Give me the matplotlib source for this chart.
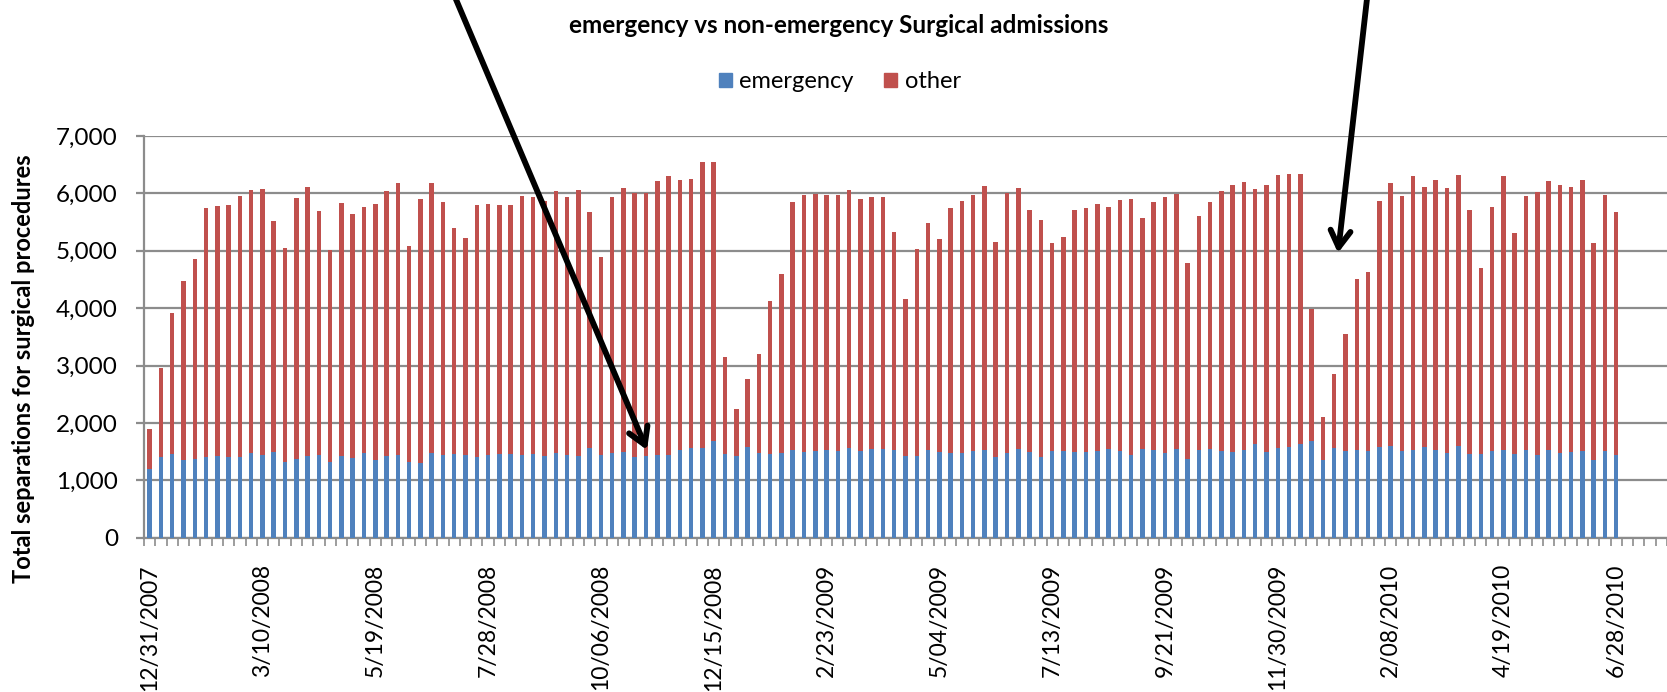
import numpy as np
import matplotlib
matplotlib.use("Agg")
import matplotlib.pyplot as plt
from matplotlib.patches import Patch

plt.rcParams["font.family"] = ["Lato", "DejaVu Sans"]

# weekly surgical admissions, 12/31/2007 .. 6/28/2010
emergency = [
    1192, 1413, 1453, 1360, 1378, 1401, 1430, 1401, 1407, 1477,
    1436, 1488, 1326, 1366, 1419, 1436, 1326, 1419, 1395, 1477,
    1349, 1424, 1442, 1320, 1302, 1471, 1442, 1453, 1442, 1413,
    1436, 1465, 1465, 1442, 1462, 1419, 1471, 1448, 1419, 1558,
    1436, 1483, 1494, 1401, 1430, 1442, 1448, 1535, 1558, 1558,
    1686, 1453, 1430, 1576, 1477, 1465, 1471, 1529, 1500, 1517,
    1529, 1512, 1570, 1506, 1552, 1547, 1535, 1430, 1430, 1535,
    1500, 1477, 1471, 1517, 1529, 1407, 1471, 1541, 1500, 1407,
    1506, 1506, 1488, 1488, 1517, 1541, 1506, 1436, 1541, 1529,
    1483, 1541, 1378, 1529, 1547, 1517, 1500, 1523, 1628, 1500,
    1558, 1576, 1628, 1685, 1349, 1565, 1510, 1522, 1513, 1578,
    1590, 1510, 1533, 1572, 1526, 1480, 1592, 1461, 1461, 1507,
    1533, 1467, 1520, 1434, 1533, 1474, 1493, 1507, 1362, 1507,
    1434,
]
other = [
    703, 1552, 2454, 3117, 3477, 4349, 4355, 4401, 4552, 4575,
    4640, 4035, 3726, 4547, 4686, 4262, 3686, 4412, 4250, 4290,
    4465, 4623, 4744, 3756, 4593, 4715, 4407, 3942, 3785, 4384,
    4384, 4337, 4332, 4511, 4471, 4441, 4576, 4488, 4645, 4111,
    3454, 4453, 4599, 4599, 4582, 4779, 4860, 4703, 4686, 4994,
    4855, 1698, 814, 1191, 1726, 2657, 3128, 4314, 4471, 4477,
    4448, 4459, 4494, 4401, 4378, 4389, 3791, 2721, 3599, 3948,
    3703, 4261, 4389, 4451, 4605, 3744, 4535, 4558, 4209, 4134,
    3634, 3732, 4227, 4250, 4297, 4221, 4384, 4471, 4023, 4326,
    4447, 4453, 3407, 4081, 4302, 4518, 4645, 4675, 4448, 4651,
    4762, 4755, 4709, 2300, 750, 1284, 2040, 2981, 3120, 4295,
    4595, 4453, 4776, 4546, 4704, 4606, 4724, 4250, 3236, 4263,
    4770, 3842, 4427, 4586, 4678, 4671, 4612, 4723, 3776, 4467,
    4237,
]
tick_labels = ["12/31/2007", "3/10/2008", "5/19/2008", "7/28/2008", "10/06/2008",
               "12/15/2008", "2/23/2009", "5/04/2009", "7/13/2009", "9/21/2009",
               "11/30/2009", "2/08/2010", "4/19/2010", "6/28/2010"]
label_step = 10
n_slots = 135  # axis keeps a few empty weeks after the last bar

BLUE = "#4F81BD"
RED = "#C0504D"
GRID = "#8C8C8C"

W, H = 1667, 692
fig = plt.figure(figsize=(W / 100, H / 100), dpi=100)
ax = fig.add_axes([144 / W, 1 - 537.7 / H, 1 - 144 / W, (537.7 - 136) / H])

x = np.arange(len(emergency))
ax.bar(x, emergency, width=0.4, color=BLUE, zorder=3)
ax.bar(x, other, width=0.4, bottom=emergency, color=RED, zorder=3)

ax.set_ylim(0, 7000)
ax.set_xlim(-0.5, (W - 144) / 11.29 - 0.5)
ax.set_yticks(range(0, 7001, 1000))
ax.set_yticklabels([f"{v:,}" for v in range(0, 7001, 1000)])
ax.yaxis.grid(True, color=GRID, linewidth=1.6, zorder=0)
ax.set_axisbelow(True)

ax.set_xticks(np.arange(0, len(emergency), label_step))
ax.set_xticklabels(tick_labels, rotation=90)
ax.set_xticks(np.arange(-0.5, n_slots, 1), minor=True)
ax.tick_params(axis="x", which="major", length=0, pad=19, labelsize=16.5)
ax.tick_params(axis="x", which="minor", length=5.5, width=1.2, color=GRID)
ax.tick_params(axis="y", length=5.8, width=1.6, color=GRID, pad=13, labelsize=17.5)

for s in ["top", "right"]:
    ax.spines[s].set_visible(False)
for s in ["left", "bottom"]:
    ax.spines[s].set_color(GRID)
    ax.spines[s].set_linewidth(1.6)

fig.text(24 / W, 1 - 369 / H, "Total separations for surgical procedures",
         rotation=90, ha="center", va="center", fontsize=17, fontweight="bold")
fig.text(839 / W, 1 - 25.5 / H, "emergency vs non-emergency Surgical admissions",
         ha="center", va="center", fontsize=17.5, fontweight="bold")

handles = [Patch(color=BLUE, label="emergency"), Patch(color=RED, label="other")]
fig.legend(handles=handles, loc="center", bbox_to_anchor=(840 / W, 1 - 82 / H),
           ncol=2, frameon=False, fontsize=17, handlelength=0.55, handleheight=0.55,
           handletextpad=0.3, columnspacing=1.3)

# the two hand-drawn arrows
arrow = dict(arrowstyle="->,head_length=1.0,head_width=0.6", lw=4.2,
             color="black", mutation_scale=12, shrinkA=0, shrinkB=0)
ax.annotate("", xy=(647, H - 450), xycoords="figure pixels",
            xytext=(452, H + 10), textcoords="figure pixels", arrowprops=arrow,
            annotation_clip=False)
ax.annotate("", xy=(1338, H - 253), xycoords="figure pixels",
            xytext=(1368, H + 10), textcoords="figure pixels", arrowprops=arrow,
            annotation_clip=False)

fig.savefig("out.png", dpi=100, facecolor="white")
